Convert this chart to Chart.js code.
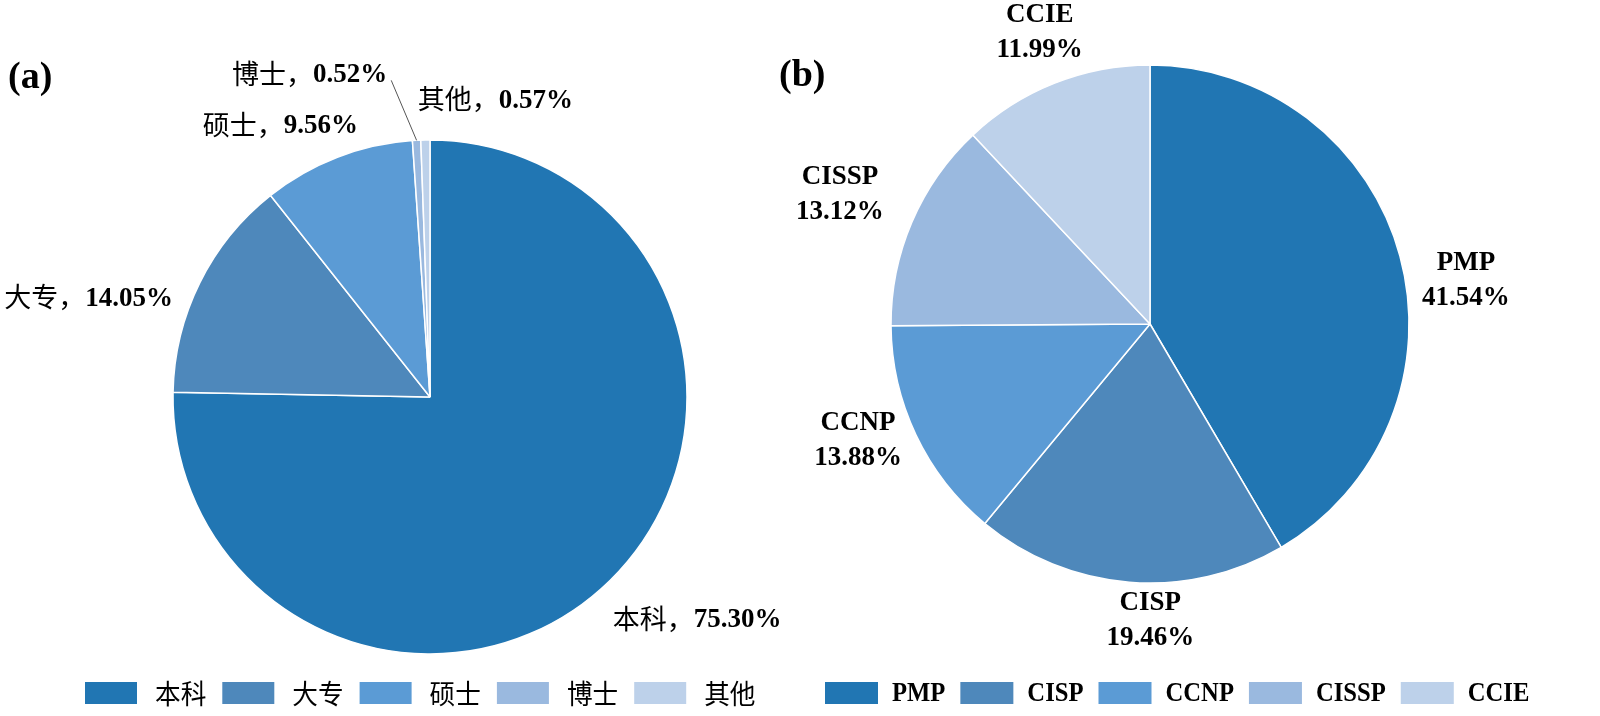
<!DOCTYPE html>
<html>
<head>
<meta charset="utf-8">
<script src="https://cdn.jsdelivr.net/npm/chart.js@4.4.1/dist/chart.umd.min.js"></script>
<style>
  html, body { margin: 0; padding: 0; background: #ffffff; }
  #wrap { position: relative; width: 1600px; height: 716px; overflow: hidden; }
  .layer { position: absolute; left: 0; top: 0; width: 1600px; height: 716px; }
</style>
</head>
<body>
<div id="wrap">
  <div class="layer"><canvas id="pieA"></canvas></div>
  <div class="layer"><canvas id="pieB"></canvas></div>
</div>
<script>
// ---------------- data ----------------
const eduLabels = ['本科', '大专', '硕士', '博士', '其他'];
const eduValues = [75.30, 14.05, 9.56, 0.52, 0.57];

const certLabels = ['PMP', 'CISP', 'CCNP', 'CISSP', 'CCIE'];
const certValues = [41.54, 19.46, 13.88, 13.12, 11.99];

// ---------------- styles ----------------
const sliceColors = ['#2176B3', '#4E88BB', '#5B9BD5', '#9AB9DF', '#BDD1EA'];
const CJK = '"Noto Sans CJK SC", "Noto Sans CJK JP", sans-serif';
const SERIF = '"Liberation Serif", "DejaVu Serif", serif';

// label offsets (px) from the arc's outer edge at its mid-angle
const eduLabelOffsets = [[87, 39], [-111, 15], [-57, -32], [-107, -66], [70, -40]];
const eduLeader = [false, false, false, true, false];
const certLabelOffsets = [[66, 25], [21, 38], [-58, 5], [-72, -27], [-15, -51]];

const fmt = v => v.toFixed(2) + '%';

const outLabels = {
  id: 'outLabels',
  afterDatasetsDraw(chart, args, opts) {
    const ctx = chart.ctx;
    const meta = chart.getDatasetMeta(0);
    const vals = chart.data.datasets[0].data;
    const labs = chart.data.labels;
    ctx.save();
    ctx.fillStyle = '#000';
    ctx.textBaseline = 'middle';
    meta.data.forEach((arc, i) => {
      const p = arc.getProps(['x', 'y', 'startAngle', 'endAngle', 'outerRadius'], true);
      const mid = (p.startAngle + p.endAngle) / 2;
      const ex = p.x + Math.cos(mid) * p.outerRadius;
      const ey = p.y + Math.sin(mid) * p.outerRadius;
      const ax = ex + opts.offsets[i][0];
      const ay = ey + opts.offsets[i][1];
      if (opts.mode === 'inline') {
        const namePart = labs[i] + '，';
        const pctPart = fmt(vals[i]);
        ctx.font = '27px ' + CJK;
        const w1 = ctx.measureText(namePart).width;
        ctx.font = 'bold 27px ' + SERIF;
        const w2 = ctx.measureText(pctPart).width;
        const x0 = ax - (w1 + w2) / 2;
        ctx.textAlign = 'left';
        ctx.font = '27px ' + CJK;
        ctx.fillText(namePart, x0, ay - 1);
        ctx.font = 'bold 27px ' + SERIF;
        ctx.fillText(pctPart, x0 + w1, ay + 1);
        if (opts.leader && opts.leader[i]) {
          ctx.strokeStyle = '#555';
          ctx.lineWidth = 1;
          ctx.beginPath();
          ctx.moveTo(ex, ey);
          ctx.lineTo(x0 + w1 + w2 + 4, ay + 6);
          ctx.stroke();
        }
      } else {
        ctx.textAlign = 'center';
        ctx.font = 'bold 27px ' + SERIF;
        ctx.fillText(labs[i], ax, ay - 17.5);
        ctx.fillText(fmt(vals[i]), ax, ay + 17.5);
      }
    });
    ctx.restore();
  }
};

const boxLegend = {
  id: 'boxLegend',
  afterDraw(chart, args, opts) {
    const ctx = chart.ctx;
    const labs = chart.data.labels;
    const cols = chart.data.datasets[0].backgroundColor;
    const sx = opts.scaleX || 1;
    ctx.save();
    ctx.textBaseline = 'middle';
    ctx.textAlign = 'left';
    ctx.font = opts.font;
    let x = opts.x;
    labs.forEach((l, i) => {
      ctx.fillStyle = cols[i];
      ctx.fillRect(x, opts.y, opts.boxW, opts.boxH);
      x += opts.boxW + opts.gap;
      ctx.fillStyle = '#000';
      ctx.save();
      ctx.translate(x, opts.y + opts.boxH / 2 + 1);
      ctx.scale(sx, 1);
      ctx.fillText(l, 0, 0);
      ctx.restore();
      x += ctx.measureText(l).width * sx + opts.spacing;
    });
    ctx.restore();
  }
};

const panelTitle = {
  id: 'panelTitle',
  afterDraw(chart, args, opts) {
    const ctx = chart.ctx;
    ctx.save();
    ctx.fillStyle = '#000';
    ctx.font = 'bold 38px ' + SERIF;
    ctx.textBaseline = 'middle';
    ctx.textAlign = 'left';
    ctx.fillText(opts.text, opts.x, opts.y);
    ctx.restore();
  }
};

function makePie(id, labels, values, pad, radius, plugOpts) {
  return new Chart(document.getElementById(id), {
    type: 'pie',
    data: {
      labels: labels,
      datasets: [{
        data: values,
        backgroundColor: sliceColors,
        borderColor: '#ffffff',
        borderWidth: 1.5,
        radius: radius
      }]
    },
    options: {
      responsive: true,
      maintainAspectRatio: false,
      animation: false,
      layout: { padding: pad },
      plugins: {
        legend: { display: false },
        tooltip: { enabled: false },
        outLabels: plugOpts.labels,
        boxLegend: plugOpts.legend,
        panelTitle: plugOpts.title
      }
    },
    plugins: [outLabels, boxLegend, panelTitle]
  });
}

// left pie: centre (430, 397), radius 257
makePie('pieA', eduLabels, eduValues,
  { left: 0, right: 740, top: 78, bottom: 0 }, 257, {
    labels: { mode: 'inline', offsets: eduLabelOffsets, leader: eduLeader },
    legend: { x: 85, y: 682, boxW: 52, boxH: 22, gap: 18, spacing: 16, font: '27px ' + CJK, scaleX: 0.95 },
    title: { text: '(a)', x: 8, y: 78 }
  });

// right pie: centre (1150, 324), radius 259
makePie('pieB', certLabels, certValues,
  { left: 700, right: 0, top: 0, bottom: 68 }, 259, {
    labels: { mode: 'stack', offsets: certLabelOffsets },
    legend: { x: 825, y: 682, boxW: 53, boxH: 22, gap: 14, spacing: 15, font: 'bold 28px ' + SERIF, scaleX: 0.88 },
    title: { text: '(b)', x: 779, y: 76 }
  });
</script>
</body>
</html>
